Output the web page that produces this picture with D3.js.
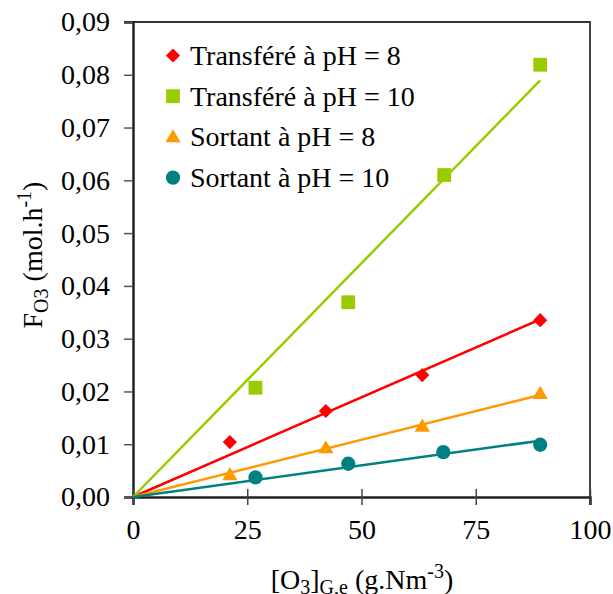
<!DOCTYPE html>
<html><head><meta charset="utf-8">
<script src="https://cdn.jsdelivr.net/npm/d3@7"></script>
<style>html,body{margin:0;padding:0;background:#fff}</style>
</head><body><div id="chart"></div>
<script>
const seriesNames = ["Transféré à pH = 8","Transféré à pH = 10","Sortant à pH = 8","Sortant à pH = 10"];
const seriesColors = ["#FF0000","#99CC00","#FF9900","#008080"];
const seriesShapes = ["diamond","square","triangle","circle"];
const xT8 = [21.2, 42.2, 63.3, 89.1];
const yT8 = [0.0104, 0.0163, 0.0231, 0.0335];
const xT10 = [26.8, 47.1, 68.1, 89.1];
const yT10 = [0.0207, 0.0369, 0.0610, 0.0819];
const xS8 = [21.2, 42.2, 63.3, 89.1];
const yS8 = [0.0042, 0.0093, 0.0134, 0.0196];
const xS10 = [26.8, 47.1, 67.9, 89.1];
const yS10 = [0.0037, 0.0063, 0.0085, 0.0099];
const xTicks = [0, 25, 50, 75, 100];
const yTicks = [0, 0.01, 0.02, 0.03, 0.04, 0.05, 0.06, 0.07, 0.08, 0.09];

const W = 613, H = 594;
const FONT = "Liberation Serif";
const svg = d3.select("#chart").append("svg").attr("width", W).attr("height", H);

const x = d3.scaleLinear().domain([0, 100]).range([133, 590]);
const y = d3.scaleLinear().domain([0, 0.09]).range([497, 22]);

const series = [[xT8,yT8],[xT10,yT10],[xS8,yS8],[xS10,yS10]].map((s,i)=>({
  name: seriesNames[i], color: seriesColors[i], shape: seriesShapes[i],
  pts: s[0].map((v,j)=>({x:v, y:s[1][j]}))
}));

const fmt = v => d3.format(".2f")(v).replace(".", ",");

// border (top/right)
svg.append("line").attr("x1", 124).attr("x2", 591).attr("y1", y(0.09)).attr("y2", y(0.09)).attr("stroke", "#333").attr("stroke-width", 2);
svg.append("line").attr("x1", x(100)).attr("x2", x(100)).attr("y1", y(0.09)).attr("y2", 505).attr("stroke", "#444").attr("stroke-width", 2);

// y axis
const ya = svg.append("g").attr("transform", `translate(${x(0)},0)`)
  .call(d3.axisLeft(y).tickValues(yTicks).tickFormat(fmt).tickSize(9).tickPadding(14));
ya.select(".domain").attr("stroke", "#222").attr("stroke-width", 2.5);
ya.selectAll(".tick line").attr("stroke", "#555").attr("stroke-width", 1.5);
ya.selectAll(".tick text").attr("font-size", 28).attr("font-family", FONT).attr("fill", "#000");

// x axis
const xa = svg.append("g").attr("transform", `translate(0,${y(0)})`)
  .call(d3.axisBottom(x).tickValues(xTicks).tickFormat(d3.format("d")).tickSizeOuter(0).tickSize(8).tickPadding(14));
xa.select(".domain").attr("stroke", "#222").attr("stroke-width", 2.5);
xa.selectAll(".tick line").attr("y1", -8).attr("stroke", "#444").attr("stroke-width", 1.5);
xa.selectAll(".tick text").attr("font-size", 28).attr("font-family", FONT).attr("fill", "#000");

// trend lines (least squares through origin)
series.forEach(s => {
  const sxy = d3.sum(s.pts, p => p.x * p.y), sxx = d3.sum(s.pts, p => p.x * p.x);
  const k = sxy / sxx, xm = d3.max(s.pts, p => p.x);
  svg.append("path").attr("d", d3.line().x(p => x(p[0])).y(p => y(p[1]))([[0,0],[xm, k*xm]]))
    .attr("stroke", s.color).attr("stroke-width", 2.5).attr("fill", "none");
});

function marker(g, shape, color) {
  let p;
  if (shape === "diamond") p = g.append("path").attr("d", d3.symbol(d3.symbolSquare, 100)()).attr("transform", "rotate(45)");
  else if (shape === "square") p = g.append("path").attr("d", d3.symbol(d3.symbolSquare, 190)());
  else if (shape === "triangle") p = g.append("path").attr("d", d3.symbol(d3.symbolTriangle, 100)()).attr("transform","translate(0,1)");
  else p = g.append("path").attr("d", d3.symbol(d3.symbolCircle, 160)());
  p.attr("fill", color);
}

series.forEach(s => {
  s.pts.forEach(pt => {
    const g = svg.append("g").attr("transform", `translate(${x(pt.x)},${y(pt.y)})`);
    marker(g, s.shape, s.color);
  });
});

// legend
series.forEach((s, i) => {
  const by = 65 + i * 40.7;
  const g = svg.append("g").attr("transform", `translate(173,${by - 9.5})`);
  marker(g, s.shape, s.color);
  svg.append("text").attr("x", 190).attr("y", by).attr("font-size", 28).attr("font-family", FONT).text(s.name);
});

// y title
const yt = svg.append("text").attr("transform", "translate(42,255) rotate(-90)").attr("text-anchor", "middle")
  .attr("font-size", 28).attr("font-family", FONT);
yt.append("tspan").text("F");
yt.append("tspan").attr("font-size", 20).attr("dy", 6).text("O3");
yt.append("tspan").attr("dy", -6).text(" (mol.h");
yt.append("tspan").attr("font-size", 20).attr("dy", -11).text("-1");
yt.append("tspan").attr("dy", 11).text(")");

// x title
const xt = svg.append("text").attr("x", 362).attr("y", 589).attr("text-anchor", "middle").attr("font-size", 28).attr("font-family", FONT);
xt.append("tspan").text("[O");
xt.append("tspan").attr("font-size", 20).attr("dy", 5).text("3");
xt.append("tspan").attr("dy", -5).text("]");
xt.append("tspan").attr("font-size", 20).attr("dy", 5).text("G,e");
xt.append("tspan").attr("dy", -5).text(" (g.Nm");
xt.append("tspan").attr("font-size", 20).attr("dy", -11).text("-3");
xt.append("tspan").attr("dy", 11).text(")");
</script></body></html>
